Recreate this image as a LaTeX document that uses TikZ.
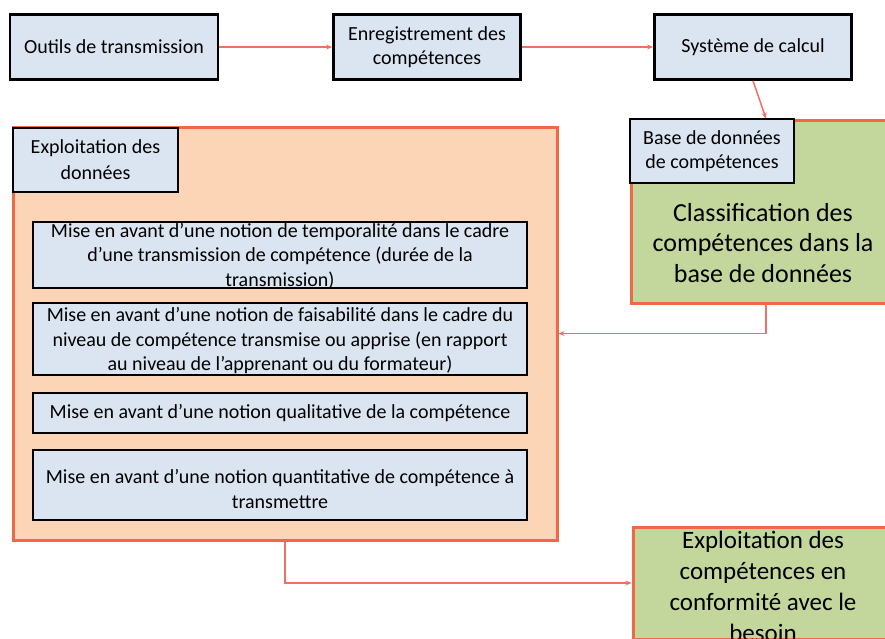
\documentclass[tikz,border=0pt]{standalone}
\usepackage{fontspec}
\setmainfont{Carlito}
\usepackage{tikz}
\usetikzlibrary{
    arrows.meta,
    positioning,
    calc
}
\definecolor{boxblue}{RGB}{219,229,241}
\definecolor{boxorange}{RGB}{251,213,181}
\definecolor{boxgreen}{RGB}{195,214,155}
\definecolor{rimorange}{RGB}{240,104,70}
\definecolor{arrred}{RGB}{242,112,96}

\tikzset{
    bluebox/.style={draw=black, line width=2.8pt, fill=boxblue, align=center, inner sep=1pt},
    topbox/.style={bluebox, minimum height=65, font=\fontsize{20}{24}\selectfont},
    itembox/.style={draw=black, line width=2.8pt, fill=boxblue, minimum width=494},
    itemtext/.style={align=center, font=\fontsize{20}{24.5}\selectfont},
    greenbox/.style={draw=rimorange, line width=3pt, fill=boxgreen},
    bigtext/.style={align=center, font=\fontsize{26}{30.5}\selectfont},
    arr/.style={draw=arrred, line width=1.5pt, -{Stealth[length=6pt, width=5pt]}}
}

\begin{document}
\begin{tikzpicture}[x=1pt, y=-1pt]
                    \useasboundingbox (0, 0) rectangle (885, 638);
                    \clip (0, 0) rectangle (885, 638);

                    % top row
                    \node[topbox, minimum width=208] (ot) at (114, 47) {Outils de transmission};
                    \node[topbox, minimum width=187] (en) at (427, 47) {Enregistrement des\\compétences};
                    \node[topbox, minimum width=197] (sc) at (753, 47) {Système de calcul};

                    % data exploitation block
                    \node[draw=rimorange, line width=3pt, fill=boxorange, minimum width=544, minimum height=413] (og) at (285, 333.5) {};
                    \node[topbox, minimum width=165, minimum height=64, font=\fontsize{20}{26}\selectfont] (ex) at (95.5, 160) {Exploitation des\\données};

                    \node[itembox, minimum height=66] (m1) at (280, 255) {};
                    \node[itemtext] (m1t) at (280, 256) {Mise en avant d’une notion de temporalité dans le cadre\\d’une transmission de compétence (durée de la\\transmission)};
                    \node[itembox, minimum height=72] (m2) at (280, 339) {};
                    \node[itemtext] (m2t) at (280, 341) {Mise en avant d’une notion de faisabilité dans le cadre du\\niveau de compétence transmise ou apprise (en rapport\\au niveau de l’apprenant ou du formateur)};
                    \node[itembox, minimum height=40] (m3) at (280, 413) {};
                    \node[itemtext] (m3t) at (280, 413) {Mise en avant d’une notion qualitative de la compétence};
                    \node[itembox, minimum height=70] (m4) at (280, 485) {};
                    \node[itemtext] (m4t) at (280, 489) {Mise en avant d’une notion quantitative de compétence à\\transmettre};

                    % classification block
                    \node[greenbox, minimum width=270, minimum height=183] (cl) at (766, 211.5) {};
                    \node[bigtext] (clt) at (763, 243) {Classification des\\compétences dans la\\base de données};
                    \node[topbox, minimum width=164, minimum height=64] (bd) at (712, 151) {Base de données\\de compétences};

                    % final block
                    \node[greenbox, minimum width=270, minimum height=112] (fx) at (768, 583) {};
                    \node[bigtext, anchor=north, font=\fontsize{25}{31}\selectfont] (fxt) at (763, 528) {Exploitation des\\compétences en\\conformité avec le\\besoin};

                    \draw[arr] (ot) -- (en);
                    \draw[arr] (en) -- (sc);
                    \draw[arr] (sc.south) -- (cl.north);
                    \draw[arr] (cl.south) |- (og.east);
                    \draw[arr] (og.south) |- (fx.west);
                \end{tikzpicture}
\end{document}
